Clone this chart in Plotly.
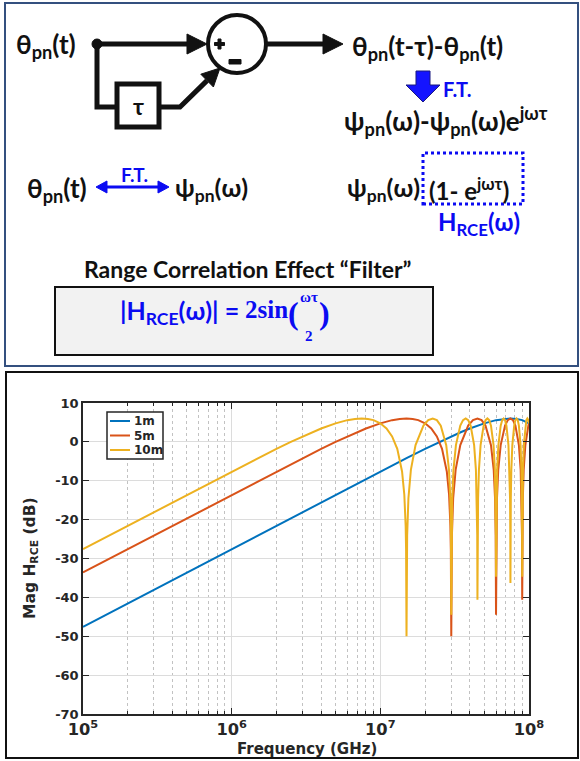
import plotly.graph_objects as go

# ---------------------------------------------------------------------------
# Range-correlation-effect filter magnitude, |H_RCE| in dB, per cable length
# ---------------------------------------------------------------------------
labels = ["1m", "5m", "10m"]
colors = ["#0072BD", "#D95319", "#EDB120"]

freq_1m = [1e5, 1e6, 1e7, 1.5e7, 2e7, 2.5e7, 3e7, 3.5e7, 4e7, 5e7, 6e7,
           6.75e7, 7.5e7, 8.25e7, 9e7, 1e8]
mag_1m = [-47.56, -27.56, -7.62, -4.18, -1.79, 0.00, 1.41, 2.53, 3.44, 4.77,
          5.59, 5.91, 6.02, 5.91, 5.59, 4.77]

freq_5m = [1e5, 1e6, 2e6, 3e6, 4e6, 5e6, 6e6, 7e6, 8e6, 1e7, 1.2e7, 1.35e7,
           1.5e7, 1.65e7, 1.8e7, 2e7, 2.2e7, 2.4e7, 2.6e7, 2.8e7, 2.9e7,
           2.96e7, 2.98e7, 3e7,
           3.03e7, 3.09e7, 3.21e7, 3.45e7, 3.9e7, 4.2e7, 4.5e7, 4.8e7, 5.1e7,
           5.55e7, 5.79e7, 5.91e7, 5.97e7, 6e7,
           6.03e7, 6.09e7, 6.21e7, 6.45e7, 6.9e7, 7.2e7, 7.5e7, 7.8e7, 8.1e7,
           8.55e7, 8.79e7, 8.91e7, 8.97e7, 9e7,
           9.03e7, 9.09e7, 9.21e7, 9.45e7, 9.9e7, 1e8]
mag_5m = [-33.58, -13.60, -7.62, -4.18, -1.79, 0.00, 1.41, 2.53, 3.44, 4.77,
          5.59, 5.91, 6.02, 5.91, 5.59, 4.77, 3.44, 1.41, -1.79, -7.62,
          -13.60, -21.54, -27.56, -50.0,
          -24.04, -14.51, -7.21, -0.84, 4.18, 5.59, 6.02, 5.59, 4.18,
          -0.84, -7.21, -14.51, -24.04, -44.5,
          -24.04, -14.51, -7.21, -0.84, 4.18, 5.59, 6.02, 5.59, 4.18,
          -0.84, -7.21, -14.51, -24.04, -40.6,
          -24.04, -14.51, -7.21, -0.84, 4.18, 4.77]

freq_10m = [1e5, 1e6, 1.5e6, 2e6, 2.5e6, 3e6, 3.5e6, 4e6, 5e6, 6e6, 6.75e6,
            7.5e6, 8.25e6, 9e6, 1e7, 1.1e7, 1.2e7, 1.3e7, 1.4e7, 1.45e7,
            1.48e7, 1.49e7, 1.5e7,
            1.515e7, 1.545e7, 1.605e7, 1.725e7, 1.95e7, 2.1e7, 2.25e7, 2.4e7,
            2.55e7, 2.775e7, 2.895e7, 2.955e7, 2.985e7, 3e7,
            3.015e7, 3.045e7, 3.105e7, 3.225e7, 3.45e7, 3.6e7, 3.75e7, 3.9e7,
            4.05e7, 4.275e7, 4.395e7, 4.455e7, 4.485e7, 4.5e7,
            4.515e7, 4.545e7, 4.605e7, 4.725e7, 4.95e7, 5.1e7, 5.25e7, 5.4e7,
            5.55e7, 5.775e7, 5.895e7, 5.955e7, 5.985e7, 6e7,
            6.015e7, 6.045e7, 6.105e7, 6.225e7, 6.45e7, 6.6e7, 6.75e7, 6.9e7,
            7.05e7, 7.275e7, 7.395e7, 7.455e7, 7.485e7, 7.5e7,
            7.515e7, 7.545e7, 7.605e7, 7.725e7, 7.95e7, 8.1e7, 8.25e7, 8.4e7,
            8.55e7, 8.775e7, 8.895e7, 8.955e7, 8.985e7, 9e7,
            9.015e7, 9.045e7, 9.105e7, 9.225e7, 9.45e7, 9.6e7, 9.75e7, 9.9e7,
            1e8]
mag_10m = [-27.56, -7.62, -4.18, -1.79, 0.00, 1.41, 2.53, 3.44, 4.77, 5.59,
           5.91, 6.02, 5.91, 5.59, 4.77, 3.44, 1.41, -1.79, -7.62, -13.60,
           -21.54, -27.56, -50.0,
           -24.04, -14.51, -7.21, -0.84, 4.18, 5.59, 6.02, 5.59,
           4.18, -0.84, -7.21, -14.51, -24.04, -44.5,
           -24.04, -14.51, -7.21, -0.84, 4.18, 5.59, 6.02, 5.59,
           4.18, -0.84, -7.21, -14.51, -24.04, -40.6,
           -24.04, -14.51, -7.21, -0.84, 4.18, 5.59, 6.02, 5.59,
           4.18, -0.84, -7.21, -14.51, -24.04, -34.7,
           -24.04, -14.51, -7.21, -0.84, 4.18, 5.59, 6.02, 5.59,
           4.18, -0.84, -7.21, -14.51, -24.04, -36.3,
           -24.04, -14.51, -7.21, -0.84, 4.18, 5.59, 6.02, 5.59,
           4.18, -0.84, -7.21, -14.51, -24.04, -34.7,
           -24.04, -14.51, -7.21, -0.84, 4.18, 5.59, 6.02, 5.59,
           4.77]

series = [(freq_1m, mag_1m), (freq_5m, mag_5m), (freq_10m, mag_10m)]

y_ticks = [-70, -60, -50, -40, -30, -20, -10, 0, 10]
y_tick_text = [str(v) for v in y_ticks]

# ---------------------------------------------------------------------------
# page geometry helpers (pixel -> paper coordinates, margins are zero)
# ---------------------------------------------------------------------------
W, H = 580, 761


def X(px):
    return px / W


def Y(py):
    return 1 - py / H


def path(points, close=True):
    s = "M " + " L ".join(f"{X(a):.5f},{Y(b):.5f}" for a, b in points)
    return s + (" Z" if close else "")


SANS = "Lato, 'Open Sans', sans-serif"
SERIF = "'Liberation Serif', 'DejaVu Serif', serif"
PLOTFONT = "'DejaVu Sans', sans-serif"
BLUE = "#0B0BF2"
INK = "#111111"
AX = "#262626"

fig = go.Figure()
for (f, m), name, c in zip(series, labels, colors):
    fig.add_trace(go.Scatter(x=f, y=m, mode="lines", name=name,
                             line=dict(color=c, width=2), showlegend=False))

shapes = []
ann = []


def text(x, y, s, size=24, color=INK, family=SANS, xanchor="left",
         yanchor="middle", angle=0, pad=1):
    ann.append(dict(x=X(x), y=Y(y), xref="paper", yref="paper", text=s,
                    showarrow=False, xanchor=xanchor, yanchor=yanchor,
                    textangle=angle, borderpad=pad,
                    font=dict(family=family, size=size, color=color,
                              weight="bold")))


def line(pts, color=INK, width=5, dash="solid"):
    shapes.append(dict(type="path", path=path(pts, close=False),
                       xref="paper", yref="paper",
                       line=dict(color=color, width=width, dash=dash)))


def tri(pts, color=INK, outline=None):
    shapes.append(dict(type="path", path=path(pts), xref="paper",
                       yref="paper", fillcolor=color,
                       line=dict(color=outline or color, width=1)))


def rect(x0, y0, x1, y1, color=INK, width=2, fill=None, dash="solid"):
    shapes.append(dict(type="rect", x0=X(x0), x1=X(x1), y0=Y(y1), y1=Y(y0),
                       xref="paper", yref="paper",
                       line=dict(color=color, width=width, dash=dash),
                       fillcolor=fill or "rgba(0,0,0,0)"))


# ---- panel frames ----
rect(5, 3, 578, 366, color="#34507F", width=2)
rect(6, 372, 578, 758, color="#111111", width=2)

# ---- block diagram ----
yl = 44
line([(97, yl), (188, yl)])
tri([(187, yl - 10), (207, yl), (187, yl + 10)])
line([(97, yl), (97, 107), (116, 107)])
shapes.append(dict(type="circle", xref="paper", yref="paper",
                   x0=X(92), x1=X(102), y0=Y(yl + 5), y1=Y(yl - 5),
                   fillcolor=INK, line=dict(color=INK, width=1)))
rect(117, 84, 159, 127, color=INK, width=5, fill="white")
text(138, 106, "τ", size=23, xanchor="center")
line([(159, 107), (180, 107), (207, 80.6)])
tri([(220, 68), (213.4, 87.0), (200.8, 74.2)])
shapes.append(dict(type="circle", xref="paper", yref="paper",
                   x0=X(208), x1=X(266), y0=Y(yl + 29), y1=Y(yl - 29),
                   line=dict(color=INK, width=4)))
# plus / minus signs inside the summing junction
rect(214.5, yl - 1.5, 224.5, yl + 1.5, color=INK, width=1, fill=INK)
rect(218, yl - 5, 221, yl + 5, color=INK, width=1, fill=INK)
rect(229, 59.5, 241, 64, color=INK, width=1, fill=INK)
line([(266, yl), (324, yl)])
tri([(323, yl - 10), (343, yl), (323, yl + 10)])

text(14, 46, "θ<sub>pn</sub>(t)", size=26)
text(350, 47, "θ<sub>pn</sub>(t-τ)-θ<sub>pn</sub>(t)", size=26)

# Fourier-transform step (blue arrow)
shapes.append(dict(type="path", xref="paper", yref="paper",
                   path=path([(416, 71), (430, 71), (430, 85), (440, 85),
                              (423, 102), (406, 85), (416, 85)]),
                   fillcolor="#1414FF", line=dict(color="#1A1A80", width=1)))
text(441, 89, "F.T.", size=20, color=BLUE)
text(342, 121, "ψ<sub>pn</sub>(ω)-ψ<sub>pn</sub>(ω)e<sup>jωτ</sup>", size=26)

# theta <-> psi transform pair
text(25, 189, "θ<sub>pn</sub>(t)", size=26)
line([(104, 187), (161, 187)], color=BLUE, width=3)
tri([(96, 187), (107, 181), (107, 193)], color=BLUE)
tri([(169, 187), (158, 181), (158, 193)], color=BLUE)
text(134, 175, "F.T.", size=19, color=BLUE, xanchor="center")
text(173, 189, "ψ<sub>pn</sub>(ω)", size=25)

text(345, 189, "ψ<sub>pn</sub>(ω)", size=25)
text(427, 189, "(1- e<sup>jωτ</sup>)", size=24)
rect(423, 153, 523, 204, color=BLUE, width=3, dash="dot")
text(436, 223, "H<sub>RCE</sub>(ω)", color=BLUE)

# filter title and formula
text(248, 269, "Range Correlation Effect “Filter”", size=23,
     xanchor="center")
rect(55, 287, 433, 355, color=INK, width=2, fill="#F2F2F2")
text(118, 312, "|H<sub>RCE</sub>(ω)| =", size=25, color=BLUE)
text(289, 310, "2sin", size=25, color=BLUE, family=SERIF, xanchor="right",
     pad=0)
text(300, 313, "(", size=32, color=BLUE, family=SERIF, xanchor="right",
     pad=0)
text(309, 297, "ωτ", size=15, color=BLUE, family=SERIF, xanchor="center",
     pad=0)
text(309, 336, "2", size=15, color=BLUE, family=SERIF, xanchor="center",
     pad=0)
text(318, 313, ")", size=32, color=BLUE, family=SERIF, pad=0)

# ---- manual legend ----
rect(107, 412, 163, 459, color=AX, width=1.5, fill="white")
for i, (name, c) in enumerate(zip(labels, colors)):
    yy = 421 + 14.5 * i
    line([(110, yy), (130, yy)], color=c, width=2)
    text(132, yy, name, size=12, color=AX, family=PLOTFONT)

# ---- axis titles ----
text(307, 749, "Frequency (GHz)", size=15, color=AX, family=PLOTFONT,
     xanchor="center")
text(31, 558, "Mag H<sub>RCE</sub> (dB)", size=15.5, color=AX,
     family=PLOTFONT, xanchor="center", angle=-90)

tickfont = dict(family=PLOTFONT, size=13, color=AX, weight="bold")
fig.update_layout(
    width=W, height=H,
    margin=dict(l=0, r=0, t=0, b=0, pad=0),
    paper_bgcolor="white", plot_bgcolor="white",
    showlegend=False,
    shapes=shapes, annotations=ann,
    xaxis=dict(
        type="log", range=[5, 8], domain=[X(83), X(529)], dtick=1,
        exponentformat="power", showexponent="all", tickfont=tickfont,
        ticks="inside", ticklen=6, tickcolor=AX, tickwidth=1,
        showline=True, linecolor=AX, linewidth=1.5, mirror="ticks",
        showgrid=True, gridcolor="#DCDCDC", gridwidth=1, zeroline=False,
        automargin=False,
        minor=dict(dtick="D1", ticks="inside", ticklen=3, tickcolor=AX,
                   showgrid=True, gridcolor="#C2C2C2", griddash="dot",
                   gridwidth=1),
    ),
    yaxis=dict(
        range=[-70, 10], domain=[Y(714), Y(403)],
        tickvals=y_ticks, ticktext=y_tick_text, tickfont=tickfont,
        ticks="inside", ticklen=6, tickcolor=AX, tickwidth=1,
        showline=True, linecolor=AX, linewidth=1.5, mirror="ticks",
        showgrid=True, gridcolor="#DCDCDC", gridwidth=1, zeroline=False,
        automargin=False,
    ),
)

fig.write_html("out.html")
